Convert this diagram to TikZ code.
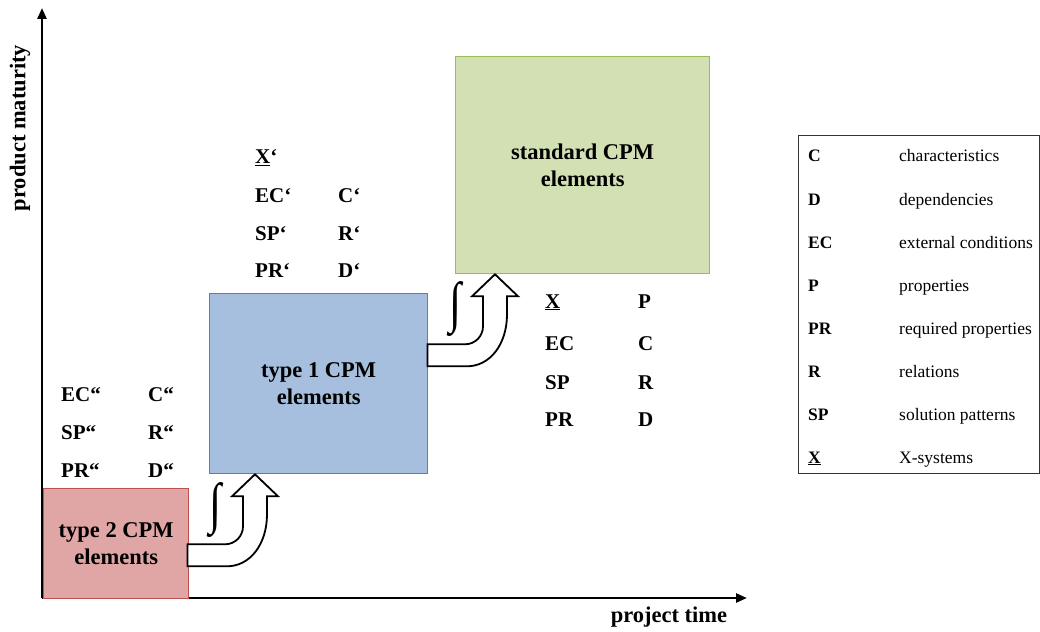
\documentclass[tikz,border=0pt]{standalone}
\usepackage{fontspec}
\setmainfont{Liberation Serif}
\usetikzlibrary{arrows.meta,calc}

\definecolor{boxred}{HTML}{DFA6A5}
\definecolor{edgered}{HTML}{C0504D}
\definecolor{boxblue}{HTML}{A7BFDE}
\definecolor{edgeblue}{HTML}{4F81BD}
\definecolor{boxgreen}{HTML}{D3E0B4}
\definecolor{edgegreen}{HTML}{9BBB59}

\tikzset{
  axis/.style={line width=2.6pt, -{Triangle[length=11pt,width=9pt]}},
  axislabel/.style={inner sep=0pt, font=\fontsize{22.5}{27}\selectfont\bfseries},
  cpmbox/.style={draw, line width=1.3pt, anchor=north west, align=center, inner sep=0pt,
    font=\fontsize{22.5}{27}\selectfont\bfseries},
  elem/.style={anchor=base west, inner sep=0pt, font=\fontsize{21}{21}\selectfont\bfseries},
  legkey/.style={anchor=base west, inner sep=0pt, font=\fontsize{17.5}{17.5}\selectfont\bfseries},
  legtext/.style={anchor=base west, inner sep=0pt, font=\fontsize{17.5}{17.5}\selectfont},
  integ/.style={inner sep=0pt, font=\bfseries},
  stepup/.pic={
    \draw[yscale=-1, line width=1.8pt, fill=white, line join=miter]
      (-67.5,70) -- (-30,70) .. controls (-20,70) and (-12,62) .. (-12,52) -- (-12,22)
      -- (-23,22) -- (0,0) -- (23,22) -- (12,22) -- (12,40)
      .. controls (12,70) and (-5,92) .. (-28,92) -- (-67.5,92) -- cycle;
  }
}

\begin{document}
\begin{tikzpicture}[x=1pt,y=1pt,yscale=-1,xscale=1]
    \useasboundingbox (0,0) rectangle (1040,631);

    % axes
    \coordinate (o) at (42,598);
    \coordinate (ytop) at (42,8);
    \coordinate (xend) at (747,598);
    \draw[axis] (o) -- (ytop);
    \draw[axis] (o) -- (xend);
    \node[axislabel, rotate=90] (ylab) at (20,128) {product maturity};
    \node[axislabel] (xlab) at (669,617) {project time};

    % CPM element boxes
    \node[cpmbox, fill=boxred, draw=edgered, minimum width=145pt, minimum height=110pt] (type2) at (43,488) {type 2 CPM\\elements};
    \node[cpmbox, fill=boxblue, draw=edgeblue, minimum width=218pt, minimum height=180pt] (type1) at (209,293) {type 1 CPM\\elements};
    \node[cpmbox, fill=boxgreen, draw=edgegreen, minimum width=254pt, minimum height=217pt] (standard) at (455,56) {standard CPM\\elements};

    % integration steps
    \pic at ($(type1.south west)+(46,0)$) {stepup};
    \pic at ($(standard.south west)+(40,0)$) {stepup};
    \node[integ] (int1) at (215,510) {\resizebox*{12pt}{55pt}{∫}};
    \node[integ] (int2) at (455,309) {\resizebox*{12pt}{55pt}{∫}};

    % Text Node: type 2 elements
    \node[elem] (ec2) at (61,401) {EC“};
    \node[elem] (sp2) at (61,439) {SP“};
    \node[elem] (pr2) at (61,477) {PR“};
    \node[elem] (c2) at (148,401) {C“};
    \node[elem] (r2) at (148,439) {R“};
    \node[elem] (d2) at (148,477) {D“};

    % Text Node: type 1 elements
    \node[elem] (x1) at (255,164) {\underline{X}‘};
    \node[elem] (ec1) at (255,202) {EC‘};
    \node[elem] (sp1) at (255,240) {SP‘};
    \node[elem] (pr1) at (255,277) {PR‘};
    \node[elem] (c1) at (338,202) {C‘};
    \node[elem] (r1) at (338,240) {R‘};
    \node[elem] (d1) at (338,277) {D‘};

    % Text Node: standard elements
    \node[elem] (x0) at (545,308) {\underline{X}};
    \node[elem] (ec0) at (545,350) {EC};
    \node[elem] (sp0) at (545,389) {SP};
    \node[elem] (pr0) at (545,426) {PR};
    \node[elem] (p0) at (638,308) {P};
    \node[elem] (c0) at (638,350) {C};
    \node[elem] (r0) at (638,389) {R};
    \node[elem] (d0) at (638,426) {D};

    % legend
    \draw[line width=0.9pt, draw=black!80] (798,135) rectangle (1039,473);
    \foreach \abbr/\desc [count=\i] in {C/characteristics, D/dependencies, EC/external conditions,
        P/properties, PR/required properties, R/relations, SP/solution patterns, \underline{X}/X-systems}{
      \node[legkey] (key\i) at (808,{162+43*(\i-1)}) {\abbr};
      \node[legtext] (desc\i) at (899,{162+43*(\i-1)}) {\desc};
    }
\end{tikzpicture}
\end{document}
